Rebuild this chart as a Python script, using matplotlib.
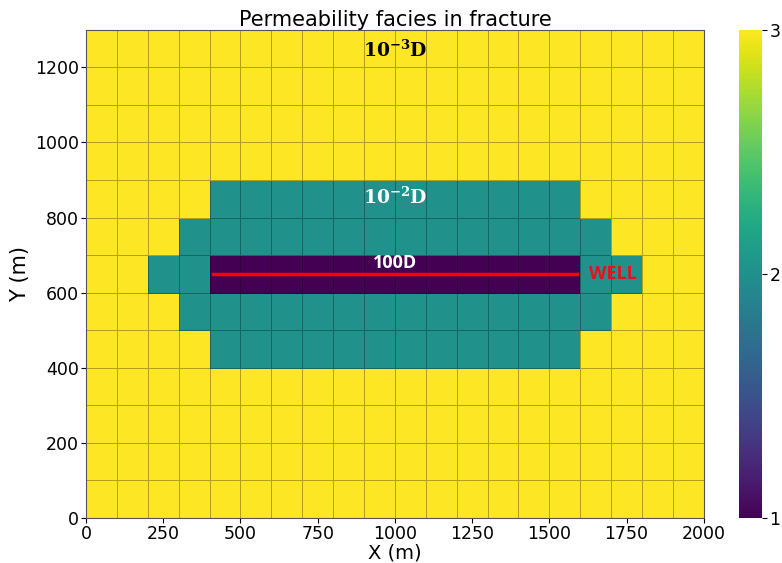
import numpy as np
import matplotlib.pyplot as plt

plt.rcParams['mathtext.fontset'] = 'dejavuserif'

# Grid of 100 m cells over a 2000 m x 1300 m fracture plane
x_edges = np.arange(0, 2001, 100)
y_edges = np.arange(0, 1301, 100)

# Facies codes: 3 = 1e-3 D matrix, 2 = 1e-2 D stimulated zone, 1 = 100 D well zone
facies = np.full((13, 20), 3)
# stimulated zone, rows listed as (row index, first col, last col exclusive)
zone_rows = [(4, 4, 16), (5, 3, 17), (6, 2, 18), (7, 3, 17), (8, 4, 16)]
for r, c0, c1 in zone_rows:
    facies[r, c0:c1] = 2
# high-permeability strip around the well
facies[6, 4:16] = 1

well_x = [410, 1590]
well_y = [650, 650]

fig = plt.figure(figsize=(7.82, 5.63), dpi=100)
ax = fig.add_axes([0.110, 0.080, 0.790, 0.867])
cax = fig.add_axes([0.945, 0.080, 0.029, 0.867])

mesh = ax.pcolormesh(x_edges, y_edges, facies, cmap='viridis', vmin=1, vmax=3,
                     edgecolors=(0, 0, 0, 0.3), linewidth=0.6)
ax.plot(well_x, well_y, color='red', lw=2.5)

ax.text(1000, 1245, r'$\mathbf{10^{-3}D}$', color='black', fontsize=13.5,
        ha='center', va='center')
ax.text(1000, 855, r'$\mathbf{10^{-2}D}$', color='white', fontsize=13.5,
        ha='center', va='center')
ax.text(1000, 678, '100D', color='white', fontsize=13, fontfamily='Open Sans',
        fontweight='bold', ha='center', va='center')
ax.text(1705, 650, 'WELL', color='#e8101a', fontsize=13, fontfamily='Open Sans',
        fontweight='bold', ha='center', va='center')

ax.set_xlim(0, 2000)
ax.set_ylim(0, 1300)
ax.set_xticks([0, 250, 500, 750, 1000, 1250, 1500, 1750, 2000])
ax.set_yticks([0, 200, 400, 600, 800, 1000, 1200])
ax.tick_params(labelsize=12.5, pad=1.5)
ax.set_xlabel('X (m)', fontsize=14, labelpad=0.5)
ax.set_ylabel('Y (m)', fontsize=15)
ax.set_title('Permeability facies in fracture', fontsize=15, pad=3)
for s in ax.spines.values():
    s.set_color('#555555')

cb = fig.colorbar(mesh, cax=cax, ticks=[1, 2, 3])
cb.ax.tick_params(labelsize=12.5, pad=2)
cb.outline.set_visible(False)

fig.savefig('out.png', dpi=100)
